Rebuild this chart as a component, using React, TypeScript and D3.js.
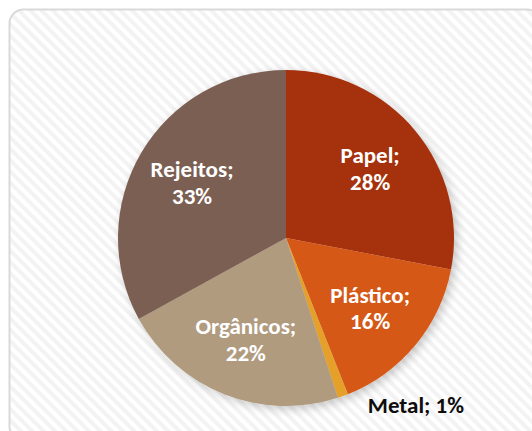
import * as d3 from 'd3';

const categories = ['Papel', 'Plástico', 'Metal', 'Orgânicos', 'Rejeitos'];
const values = [28, 16, 1, 22, 33];
const colors = ['#A5300F', '#D55816', '#E5A02A', '#B19B7F', '#7C5F53'];

const width = 532;
const height = 431;
const cx = 286;
const cy = 238;
const radius = 168;

export default function App() {
  const pie = d3
    .pie<number>()
    .sort(null)
    .value((d) => d);
  const arcs = pie(values);
  const arc = d3.arc<d3.PieArcDatum<number>>().innerRadius(0).outerRadius(radius);
  const labelArc = d3
    .arc<d3.PieArcDatum<number>>()
    .innerRadius(radius * 0.65)
    .outerRadius(radius * 0.65);
  const outerArc = d3
    .arc<d3.PieArcDatum<number>>()
    .innerRadius(radius)
    .outerRadius(radius);

  const font = "Carlito, Lato, 'Open Sans', sans-serif";

  return (
    <svg
      width={width}
      height={height}
      style={{ position: 'absolute', left: 0, top: 0 }}
    >
      <defs>
        <pattern
          id='hatch'
          width={8}
          height={8}
          patternUnits='userSpaceOnUse'
          patternTransform='rotate(45)'
        >
          <rect width={8} height={8} fill='#ffffff' />
          <rect width={8} height={4} fill='#f3f3f3' />
        </pattern>
        <filter id='shadow' x='-20%' y='-20%' width='140%' height='140%'>
          <feDropShadow dx={3} dy={3} stdDeviation={5} floodColor='#000' floodOpacity={0.22} />
        </filter>
      </defs>
      <rect width={width} height={height} fill='#ffffff' />
      <rect
        x={9.5}
        y={9.5}
        width={width}
        height={height}
        rx={14}
        fill='url(#hatch)'
        stroke='#d9d9d9'
        strokeWidth={2}
      />
      <g transform={`translate(${cx},${cy})`}>
        <g filter='url(#shadow)'>
          {arcs.map((a, i) => (
            <path key={categories[i]} d={arc(a) ?? ''} fill={colors[i]} />
          ))}
        </g>
        {arcs.map((a, i) => {
          const label = categories[i];
          if (values[i] < 5) {
            const [ox, oy] = outerArc.centroid(a);
            return (
              <text
                key={label}
                x={ox + 73}
                y={oy + 17}
                textAnchor='middle'
                fontFamily={font}
                fontWeight='bold'
                fontSize={23}
                fill='#0d0d0d'
              >
                {`${label}; ${values[i]}%`}
              </text>
            );
          }
          const [lx, ly] = labelArc.centroid(a);
          return (
            <text
              key={label}
              x={lx}
              y={ly}
              textAnchor='middle'
              fontFamily={font}
              fontWeight='bold'
              fontSize={23}
              fill='#ffffff'
            >
              <tspan x={lx} dy='-0.22em'>{`${label};`}</tspan>
              <tspan x={lx} dy='1.17em'>{`${values[i]}%`}</tspan>
            </text>
          );
        })}
      </g>
    </svg>
  );
}
